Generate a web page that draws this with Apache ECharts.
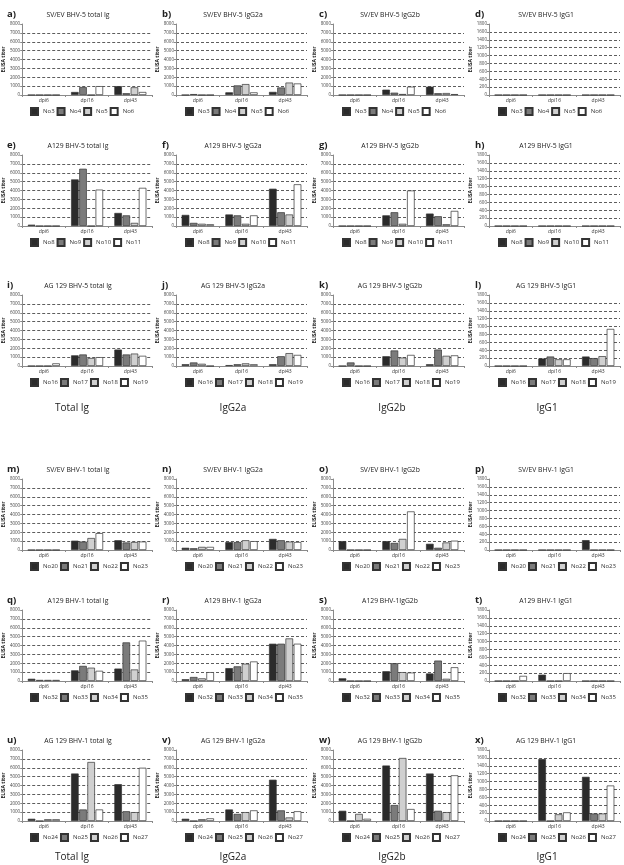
<!DOCTYPE html>
<html><head><meta charset="utf-8">
<script src="https://cdn.jsdelivr.net/npm/echarts/dist/echarts.min.js"></script>
<style>html,body{margin:0;padding:0;background:#fff}#c{width:624px;height:865px}</style>
</head><body><div id="c"></div><script>
// ---------- data ----------
const categories = ['dpi6', 'dpi16', 'dpi43'];
const mouseIds = [
  ['No3', 'No4', 'No5', 'No6'],
  ['No8', 'No9', 'No10', 'No11'],
  ['No16', 'No17', 'No18', 'No19'],
  ['No20', 'No21', 'No22', 'No23'],
  ['No32', 'No33', 'No34', 'No35'],
  ['No24', 'No25', 'No26', 'No27']
];
const panelLetters = ['a)','b)','c)','d)','e)','f)','g)','h)','i)','j)','k)','l)','m)','n)','o)','p)','q)','r)','s)','t)','u)','v)','w)','x)'];
const panelTitles = [
  'SV/EV BHV-5 total Ig', 'SV/EV BHV-5 IgG2a', 'SV/EV BHV-5 IgG2b', 'SV/EV BHV-5 IgG1',
  'A129 BHV-5 total Ig', 'A129 BHV-5 IgG2a', 'A129 BHV-5 IgG2b', 'A129 BHV-5 IgG1',
  'AG 129 BHV-5 total Ig', 'AG 129 BHV-5 IgG2a', 'AG 129 BHV-5 IgG2b', 'AG 129 BHV-5 IgG1',
  'SV/EV BHV-1 total Ig', 'SV/EV BHV-1 IgG2a', 'SV/EV BHV-1 IgG2b', 'SV/EV BHV-1 IgG1',
  'A129 BHV-1 total Ig', 'A129 BHV-1 IgG2a', 'A129 BHV-1IgG2b', 'A129 BHV-1 IgG1',
  'AG 129 BHV-1 total Ig', 'AG 129 BHV-1 IgG2a', 'AG 129 BHV-1 IgG2b', 'AG 129 BHV-1 IgG1'
];
const columnLabels = ['Total Ig', 'IgG2a', 'IgG2b', 'IgG1'];
const yAxisName = 'ELISA titer';
const igTicks = [0, 1000, 2000, 3000, 4000, 5000, 6000, 7000, 8000];
const igG1Ticks = [0, 200, 400, 600, 800, 1000, 1200, 1400, 1600, 1800];

// each panel: one row per mouse, values for dpi6, dpi16, dpi43
const a_svev5_total = [[0, 340, 1000], [0, 900, 200], [0, 0, 870], [0, 1000, 340]];
const b_svev5_g2a   = [[0, 300, 350], [100, 1080, 850], [0, 1230, 1400], [0, 300, 1300]];
const c_svev5_g2b   = [[0, 600, 940], [0, 260, 200], [0, 110, 220], [0, 940, 100]];
const d_svev5_g1    = [[0, 0, 0], [0, 0, 0], [0, 0, 0], [0, 0, 0]];
const e_a5_total    = [[150, 5250, 1470], [0, 6450, 1200], [0, 0, 350], [0, 4100, 4300]];
const f_a5_g2a      = [[1250, 1300, 4200], [350, 1200, 1550], [250, 250, 1300], [200, 1200, 4700]];
const g_a5_g2b      = [[0, 1200, 1400], [0, 1550, 1100], [0, 250, 200], [0, 4000, 1700]];
const h_a5_g1       = [[0, 0, 0], [0, 0, 0], [0, 0, 0], [0, 0, 0]];
const i_ag5_total   = [[0, 1200, 1850], [0, 1300, 1300], [0, 900, 1400], [300, 1000, 1150]];
const j_ag5_g2a     = [[200, 100, 200], [400, 200, 1100], [250, 300, 1450], [0, 200, 1250]];
const k_ag5_g2b     = [[0, 1100, 200], [400, 1750, 1850], [0, 950, 1150], [0, 1250, 1200]];
const l_ag5_g1      = [[0, 190, 240], [0, 240, 200], [0, 170, 250], [0, 170, 940]];
const m_svev1_total = [[0, 1050, 1100], [0, 950, 850], [0, 1350, 900], [0, 1900, 950]];
const n_svev1_g2a   = [[250, 900, 1250], [200, 900, 1100], [350, 1100, 950], [350, 1000, 900]];
const o_svev1_g2b   = [[1000, 1000, 700], [0, 800, 250], [0, 1250, 850], [0, 4350, 1050]];
const p_svev1_g1    = [[0, 0, 250], [0, 0, 0], [0, 0, 0], [0, 0, 0]];
const q_a1_total    = [[250, 1200, 1400], [120, 1700, 4350], [120, 1500, 1300], [120, 1150, 4550]];
const r_a1_g2a      = [[200, 1450, 4200], [450, 1650, 4200], [300, 1950, 4800], [1000, 2200, 4200]];
const s_a1_g2b      = [[300, 1100, 850], [0, 2000, 2300], [0, 1000, 250], [0, 950, 1550]];
const t_a1_g1       = [[0, 160, 0], [0, 0, 0], [0, 0, 0], [130, 200, 0]];
const u_ag1_total   = [[250, 5350, 4150], [0, 1300, 1100], [200, 6650, 1000], [200, 1300, 6000]];
const v_ag1_g2a     = [[250, 1300, 4650], [0, 800, 1200], [200, 1000, 400], [300, 1200, 1100]];
const w_ag1_g2b     = [[1150, 6250, 5350], [0, 1800, 1150], [800, 7100, 1000], [250, 1350, 5150]];
const x_ag1_g1      = [[0, 1570, 1120], [0, 0, 190], [0, 170, 190], [0, 220, 900]];

const panels = [
  a_svev5_total, b_svev5_g2a, c_svev5_g2b, d_svev5_g1,
  e_a5_total, f_a5_g2a, g_a5_g2b, h_a5_g1,
  i_ag5_total, j_ag5_g2a, k_ag5_g2b, l_ag5_g1,
  m_svev1_total, n_svev1_g2a, o_svev1_g2b, p_svev1_g1,
  q_a1_total, r_a1_g2a, s_a1_g2b, t_a1_g1,
  u_ag1_total, v_ag1_g2a, w_ag1_g2b, x_ag1_g1
];

// ---------- layout / style ----------
const colLeft = [21, 176, 333, 489];
const plotW = 131;
const rowTop = [24, 155, 295, 479, 610, 750];
const plotH = 71;
const labelRowY = [408, 857];
const labelColX = [72, 233, 392, 547];
const barColors = ['#2b2b2b', '#7b7b7b', '#d0d0d0', '#ffffff'];
const FONT = 'Open Sans, DejaVu Sans, sans-serif';

const option = {
  animation: false,
  backgroundColor: '#ffffff',
  textStyle: { fontFamily: FONT },
  grid: [], xAxis: [], yAxis: [], series: [], legend: [], graphic: []
};

panels.forEach((vals, p) => {
  const row = Math.floor(p / 4), col = p % 4;
  const ticks = col === 3 ? igG1Ticks : igTicks;
  const step = ticks[1] - ticks[0];
  const gridColors = ticks.map((t, i) => i === ticks.length - 1 ? 'rgba(0,0,0,0)' : '#333333');
  option.grid.push({ left: colLeft[col], top: rowTop[row], width: plotW, height: plotH, containLabel: false });
  option.xAxis.push({
    type: 'category', gridIndex: p, data: categories,
    axisLine: { lineStyle: { color: '#8a8a8a', width: 1 } },
    axisTick: { show: true, length: 2, lineStyle: { color: '#8a8a8a' } },
    axisLabel: { fontSize: 5, margin: 3, color: '#333', fontFamily: FONT },
    splitLine: { show: false }
  });
  option.yAxis.push({
    type: 'value', gridIndex: p, min: ticks[0], max: ticks[ticks.length - 1], interval: step,
    name: yAxisName, nameLocation: 'middle', nameGap: 13,
    nameTextStyle: { fontSize: 5, fontWeight: 'bold', color: '#222', fontFamily: FONT },
    axisLine: { show: true, lineStyle: { color: '#8a8a8a', width: 1 } },
    axisTick: { show: true, length: 2, lineStyle: { color: '#8a8a8a' } },
    axisLabel: { fontSize: 4.5, margin: 2, color: '#444', fontFamily: FONT, formatter: v => String(v) },
    splitLine: { show: true, lineStyle: { color: gridColors, type: [3, 2], width: 0.8 } }
  });
  mouseIds[row].forEach((id, k) => {
    option.series.push({
      type: 'bar', name: id, xAxisIndex: p, yAxisIndex: p, data: vals[k],
      barCategoryGap: '26%', barGap: '8%',
      itemStyle: { color: barColors[k], borderColor: '#333', borderWidth: 0.7 }
    });
  });
  option.legend.push({
    data: mouseIds[row], left: colLeft[col] + 9, top: rowTop[row] + plotH + 12,
    width: 130, orient: 'horizontal',
    itemWidth: 7, itemHeight: 7, itemGap: 2, itemTextGap: 3, selectedMode: false, padding: 0,
    icon: 'rect',
    textStyle: { fontSize: 6, color: '#333', width: 16, overflow: 'truncate', ellipsis: '', fontFamily: FONT }
  });
  option.graphic.push({
    type: 'text', left: colLeft[col] - 14, top: rowTop[row] - 15,
    style: { text: panelLetters[p], font: 'bold 9.5px ' + FONT, fill: '#222' }
  });
  option.graphic.push({
    type: 'text', x: colLeft[col] + 57, y: rowTop[row] - 9,
    style: { text: panelTitles[p], font: '6.8px ' + FONT, fill: '#222', textAlign: 'center', textVerticalAlign: 'middle' }
  });
});

labelRowY.forEach(y => {
  columnLabels.forEach((t, c) => {
    option.graphic.push({
      type: 'text', x: labelColX[c], y: y,
      style: { text: t, font: '10px ' + FONT, fill: '#222', textAlign: 'center', textVerticalAlign: 'middle' }
    });
  });
});

const chart = echarts.init(document.getElementById('c'), null, { renderer: 'canvas' });
chart.setOption(option);
</script></body></html>
